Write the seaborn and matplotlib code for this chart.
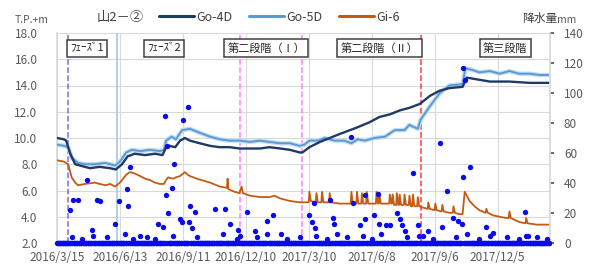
import numpy as np
import pandas as pd
import matplotlib
matplotlib.use("Agg")
import matplotlib.pyplot as plt
import matplotlib.patheffects as pe
from matplotlib.lines import Line2D
import seaborn as sns

# ---------------- data ----------------
START = pd.Timestamp("2016-03-15")
N_DAYS = 705

go4d_day = [0, 10, 13, 19, 26, 33, 47, 61, 76, 84, 93, 101, 111, 126, 140, 151, 156, 161, 169, 176,
            183, 190, 204, 219, 233, 247, 261, 276, 290, 304, 319, 333, 347, 351, 361, 376, 390, 404,
            419, 429, 447, 461, 476, 490, 504, 519, 533, 547, 561, 580, 586, 597, 619, 647, 676, 704]
go4d_val = [10.0, 9.9, 9.8, 8.8, 8.0, 7.9, 7.7, 7.8, 7.7, 7.6, 8.0, 8.6, 8.8, 8.7, 8.8, 8.7, 9.3, 9.4, 9.3, 9.8,
            10.0, 9.8, 9.6, 9.4, 9.3, 9.3, 9.2, 9.2, 9.2, 9.3, 9.2, 9.1, 8.9, 8.9, 9.3, 9.7, 10.0, 10.3,
            10.6, 10.8, 11.2, 11.6, 11.8, 12.1, 12.3, 12.6, 13.2, 13.6, 13.8, 13.9, 14.6, 14.5, 14.3, 14.3, 14.2, 14.2]

go5d_day = [0, 10, 16, 21, 30, 40, 54, 69, 83, 90, 99, 107, 119, 133, 147, 153, 156, 164, 170, 179,
            190, 204, 219, 233, 247, 261, 276, 290, 304, 319, 333, 347, 354, 361, 373, 383, 397, 411,
            421, 430, 440, 454, 469, 483, 497, 504, 516, 520, 533, 547, 561, 580, 584, 593, 604, 619,
            633, 647, 661, 676, 690, 704]
go5d_val = [9.5, 9.4, 9.3, 8.5, 8.1, 8.0, 8.0, 8.1, 7.9, 8.2, 8.9, 9.1, 9.0, 9.1, 9.0, 9.1, 9.8, 10.1, 9.9, 10.6,
            10.7, 10.4, 10.1, 9.9, 9.8, 9.8, 9.7, 9.8, 9.7, 9.6, 9.6, 9.4, 9.5, 9.8, 9.8, 10.0, 9.8, 9.8,
            9.6, 9.9, 9.8, 10.0, 10.1, 10.6, 10.6, 11.0, 10.7, 11.4, 12.4, 13.4, 14.0, 14.1, 15.3, 15.2, 15.0, 15.1,
            14.9, 15.1, 14.9, 14.9, 14.8, 14.8]

gi6_day = [0, 10, 16, 21, 26, 30, 40, 54, 61, 69, 76, 83, 90, 99, 104, 111, 119, 126, 133, 140,
           147, 153, 156, 159, 166, 170, 176, 183, 187, 190, 200, 219, 233, 243, 244, 245, 254, 261, 264, 266,
           276, 290, 304, 311, 319, 333, 347,
           360, 361, 363, 370, 371, 373, 378, 379, 381, 389, 390, 392, 405, 420, 421, 423, 428, 429, 431,
           435, 436, 438, 442, 443, 445, 456, 457, 459, 460, 461, 463, 475, 476, 478, 479, 480, 482,
           485, 486, 488, 489, 490, 492, 496, 497, 499, 503, 504, 506, 508, 509, 511, 515, 516, 518,
           523, 530, 531, 533, 540, 541, 543, 550, 551, 553, 561, 566, 567, 569, 575, 580, 583, 586,
           590, 597, 604, 613, 614, 616, 624, 633, 643, 646, 647, 649, 661, 670, 671, 673, 686, 704]
gi6_val = [8.3, 8.2, 8.0, 7.0, 6.6, 6.4, 6.5, 6.6, 6.5, 6.4, 6.5, 6.3, 6.6, 7.2, 7.4, 7.3, 7.1, 6.9, 6.8, 6.6,
           6.5, 6.5, 6.8, 7.0, 6.9, 7.0, 7.1, 7.4, 7.2, 7.1, 6.9, 6.6, 6.3, 6.2, 6.9, 6.1, 5.9, 5.8, 6.3, 5.8,
           5.6, 5.5, 5.5, 5.6, 5.4, 5.2, 5.1,
           5.1, 5.9, 5.2, 5.1, 5.8, 5.1, 5.1, 5.9, 5.1, 5.1, 5.8, 5.1, 5.0, 5.0, 5.9, 5.0, 5.0, 5.9, 5.0,
           5.0, 5.8, 5.0, 5.0, 5.9, 5.0, 5.0, 5.9, 5.0, 5.0, 5.8, 5.0, 5.0, 5.7, 5.0, 5.0, 5.7, 4.9,
           4.9, 5.8, 4.9, 4.9, 5.7, 4.9, 4.9, 5.7, 4.9, 4.9, 5.6, 4.8, 4.8, 5.7, 4.8, 4.8, 5.5, 4.8,
           4.7, 4.6, 5.1, 4.6, 4.5, 5.0, 4.5, 4.4, 4.9, 4.4, 4.3, 4.3, 4.8, 4.3, 4.2, 4.2, 5.9, 5.6,
           5.2, 4.8, 4.5, 4.3, 4.6, 4.3, 4.1, 4.0, 3.9, 3.9, 4.4, 3.9, 3.6, 3.5, 3.9, 3.5, 3.4, 3.4]

rain_day = [19, 23, 30, 43, 50, 57, 61, 83, 89, 100, 101, 104, 144, 151, 154, 156, 157, 159, 164, 167,
            176, 179, 180, 187, 189, 190, 193, 197, 226, 240, 247, 259, 271, 283, 300, 309, 321, 361,
            364, 368, 369, 390, 394, 396, 421, 423, 433, 440, 441, 454, 459, 460, 471, 476, 486, 490,
            494, 497, 509, 516, 517, 530, 547, 550, 557, 566, 573, 579, 580, 581, 583, 590, 614, 624,
            669, 673]
rain_mm = [22, 29, 29, 42, 9, 29, 28, 13, 28, 36, 25, 51, 13, 11, 85, 32, 65, 20, 37, 53,
           16, 14, 82, 91, 14, 25, 10, 21, 23, 23, 13, 9, 21, 8, 15, 19, 6, 19,
           14, 27, 10, 29, 17, 13, 71, 27, 12, 32, 16, 19, 33, 13, 12, 12, 20, 16,
           12, 8, 47, 12, 5, 8, 67, 11, 35, 17, 15, 13, 117, 44, 109, 51, 11, 7,
           21, 5]

small_day = [21, 36, 51, 71, 97, 109, 119, 129, 140, 166, 200, 237, 257, 261, 286, 301, 329, 347,
             371, 386, 401, 414, 437, 450, 464, 500, 523, 537, 571, 586, 604, 619, 643, 661, 671, 686, 700]
small_mm = [4, 3, 5, 4, 6, 3, 5, 4, 3, 5, 4, 6, 3, 5, 4, 6, 3, 4, 5, 3, 6, 4, 5, 3, 6, 4, 5, 3, 4, 6, 3, 5, 4, 3, 5, 4, 3]

tick_labels = ["2016/3/15", "2016/6/13", "2016/9/11", "2016/12/10",
               "2017/3/10", "2017/6/8", "2017/9/6", "2017/12/5"]
tick_step_days = 90

phase_day = [16, 86, 261, 350, 521]
phase_color = ["#7F6BE0", "#9DC3E6", "#FF7CFF", "#FF7CFF", "#FF3B3B"]
phase_style = ["--", "-", "--", "--", "--"]

phase_label = ["ﾌｪｰｽﾞ1", "ﾌｪｰｽﾞ2", "第二段階（Ⅰ）", "第二段階（Ⅱ）", "第三段階"]
phase_label_day = [43, 153, 299, 461, 641]

# ---------------- build ----------------
def to_dates(days):
    return START + pd.to_timedelta(np.asarray(days), unit="D")

rain_all = np.zeros(N_DAYS)
rain_all[small_day] = small_mm
rain_all[rain_day] = rain_mm
rain_df = pd.DataFrame({"date": to_dates(np.arange(N_DAYS)), "mm": rain_all})

sns.set_theme(style="white")
plt.rcParams["font.family"] = ["Noto Sans CJK JP", "DejaVu Sans"]

fig = plt.figure(figsize=(5.92, 2.67), dpi=100)
ax = fig.add_axes([57 / 592, 24 / 267, 493 / 592, 210 / 267])

for d, c, s in zip(phase_day, phase_color, phase_style):
    ax.axvline(to_dates([d])[0], color=c, ls=s, lw=1.1, zorder=1)

sns.lineplot(x=to_dates(go5d_day), y=go5d_val, ax=ax, color="#5B9BD5", lw=1.4,
             estimator=None, sort=False, zorder=3,
             path_effects=[pe.Stroke(linewidth=3.2, foreground="#C5DCF0"), pe.Normal()])
sns.lineplot(x=to_dates(go4d_day), y=go4d_val, ax=ax, color="#1F3A64", lw=1.7,
             estimator=None, sort=False, zorder=4)
sns.lineplot(x=to_dates(gi6_day), y=gi6_val, ax=ax, color="#C55A11", lw=1.3,
             estimator=None, sort=False, zorder=4)

ax.set_ylim(2, 18)
ax.set_yticks(np.arange(2, 18.1, 2))
ax.set_yticklabels([f"{v:.1f}" for v in np.arange(2, 18.1, 2)])
ax.set_xlim(START, START + pd.Timedelta(days=N_DAYS))
ax.set_xticks(to_dates([tick_step_days * k for k in range(len(tick_labels))]))
ax.set_xticklabels(tick_labels)
ax.set_xlabel("")
ax.set_ylabel("")
ax.grid(True, color="#D9D9D9", lw=0.8)
ax.tick_params(axis="both", labelsize=8.5, colors="#595959", length=0)
ax.tick_params(axis="x", pad=6)
ax.tick_params(axis="y", pad=14)
for sp in ["top", "right", "bottom"]:
    ax.spines[sp].set_visible(False)
ax.spines["left"].set_color("#D9D9D9")

ax2 = ax.twinx()
sns.scatterplot(data=rain_df, x="date", y="mm", ax=ax2, s=15, color="#0A0AF0",
                linewidth=0, clip_on=False, zorder=5, legend=False)
ax2.set_ylim(0, 140)
ax2.set_yticks(np.arange(0, 141, 20))
ax2.set_ylabel("")
ax2.tick_params(axis="y", labelsize=8.5, colors="#595959", length=3, pad=7)
for sp in ["top", "left", "bottom"]:
    ax2.spines[sp].set_visible(False)
ax2.spines["right"].set_color("#D9D9D9")
ax2.grid(False)

for lbl, d in zip(phase_label, phase_label_day):
    ax.text(to_dates([d])[0], 16.85, lbl, ha="center", va="center", fontsize=8, color="#262626",
            zorder=6, bbox=dict(boxstyle="square,pad=0.3", fc="white", ec="#404040", lw=1.1))

handles = [Line2D([], [], color="#1F3A64", lw=2.2),
           Line2D([], [], color="#5B9BD5", lw=2.2),
           Line2D([], [], color="#C55A11", lw=2.2)]
fig.legend(handles, ["Go-4D", "Go-5D", "Gi-6"], loc="center left", bbox_to_anchor=(0.26, 0.935),
           ncol=3, frameon=False, fontsize=9, handlelength=2.8, handletextpad=0.2,
           columnspacing=1.3, borderaxespad=0, labelcolor="#404040")
fig.text(97 / 592, 0.935, "山2－②", fontsize=9.5, color="#404040", ha="left", va="center")
fig.text(15 / 592, 0.925, "T.P.+m", fontsize=7.5, color="#595959", ha="left", va="center")
fig.text(522 / 592, 0.93, "降水量", fontsize=8.5, color="#404040", ha="left", va="center")
fig.text(557 / 592, 0.925, "mm", fontsize=7.5, color="#595959", ha="left", va="center")

fig.savefig("out.png", dpi=100)
